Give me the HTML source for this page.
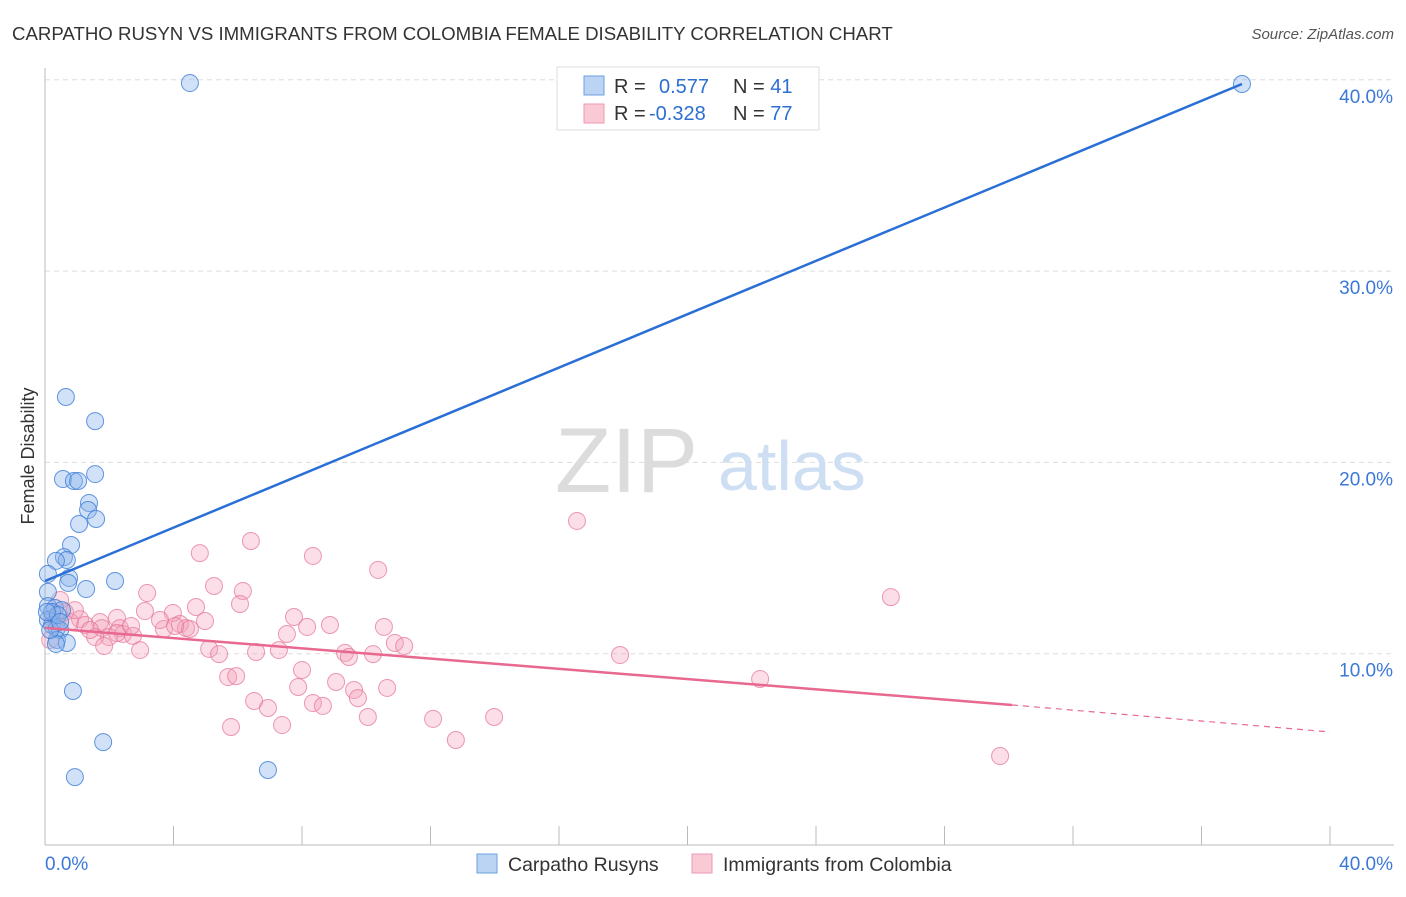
<!DOCTYPE html>
<html><head><meta charset="utf-8"><style>
body{margin:0;background:#fff;font-family:"Liberation Sans",sans-serif;}
svg text{font-family:"Liberation Sans",sans-serif;}
</style></head><body>
<svg id="chart" width="1406" height="892" viewBox="0 0 1406 892" xmlns="http://www.w3.org/2000/svg">
<text x="12" y="40" font-size="18.65" fill="#333">CARPATHO RUSYN VS IMMIGRANTS FROM COLOMBIA FEMALE DISABILITY CORRELATION CHART</text>
<text x="1394" y="39" font-size="15" fill="#555" text-anchor="end" font-style="italic">Source: ZipAtlas.com</text>
<g id="grid"></g>
<g>
<text x="555" y="492" font-size="92" fill="#dcdcdc" font-family="Liberation Serif, serif">ZIP</text>
<text x="718" y="490" font-size="70" fill="#cfdff3">atlas</text>
</g>
<g id="axes"></g>
<g id="pts"></g>
<g id="lines"></g>
<text transform="translate(34,456) rotate(-90)" font-size="18" fill="#333" text-anchor="middle">Female Disability</text>
<g>
<rect x="557" y="67" width="262" height="63" fill="#fff" stroke="#ddd"/>
<rect x="584" y="76" width="20" height="19" fill="#bcd4f3" stroke="#6d9fe0"/>
<rect x="584" y="104" width="20" height="19" fill="#f9c9d6" stroke="#eb9ab2"/>
<text x="614" y="93" font-size="20" fill="#333">R = <tspan fill="#2d6fd0" x="659">0.577</tspan><tspan x="733" fill="#333">N = </tspan><tspan fill="#2d6fd0">41</tspan></text>
<text x="614" y="120" font-size="20" fill="#333">R = <tspan fill="#2d6fd0" x="649">-0.328</tspan><tspan x="733" fill="#333">N = </tspan><tspan fill="#2d6fd0">77</tspan></text>
</g>
<g>
<rect x="477" y="854" width="20" height="19" fill="#bcd4f3" stroke="#6d9fe0"/>
<text x="508" y="871" font-size="19.5" fill="#333">Carpatho Rusyns</text>
<rect x="692" y="854" width="20" height="19" fill="#f9c9d6" stroke="#eb9ab2"/>
<text x="723" y="871" font-size="19.5" fill="#333">Immigrants from Colombia</text>
</g>
</svg>
<script>
const blueX=[4.51,37.26,0.65,1.56,0.56,0.90,1.03,1.56,1.37,1.34,1.59,1.06,0.81,0.59,0.68,0.34,0.09,0.75,0.72,1.28,2.18,0.09,0.09,0.31,0.53,0.09,0.22,0.37,0.47,0.37,0.68,0.34,0.87,1.81,0.93,6.94,0.22,0.40,0.06,0.16,0.47];
const blueY=[39.83,39.78,23.42,22.16,19.13,19.03,19.03,19.39,17.88,17.51,17.04,16.78,15.68,15.05,14.90,14.85,14.17,13.96,13.70,13.38,13.80,13.23,12.49,12.39,12.28,11.76,11.50,11.34,11.24,10.72,10.56,10.51,8.05,5.38,3.55,3.92,12.18,12.02,12.18,11.24,11.66];
const pinkX=[16.56,4.82,6.41,8.34,10.37,5.26,6.16,3.18,26.33,4.70,6.07,3.11,3.98,7.75,4.98,8.87,10.55,8.16,7.53,4.20,4.39,4.51,3.70,2.24,1.71,1.09,0.62,0.22,0.37,0.78,1.25,1.77,2.33,2.43,2.74,1.99,1.56,1.84,2.96,5.11,5.42,6.57,7.28,9.34,9.46,10.21,10.89,11.18,17.90,22.26,8.00,5.70,5.95,9.06,7.88,10.65,9.62,9.74,6.51,8.34,8.65,6.94,10.05,12.08,13.98,5.79,7.38,12.79,29.73,0.47,0.16,0.93,3.58,4.05,2.68,2.24,1.40];
const pinkY=[16.94,15.26,15.89,15.11,14.38,13.54,13.28,13.17,12.96,12.44,12.60,12.23,12.13,11.92,11.71,11.50,11.40,11.40,11.03,11.55,11.34,11.29,11.29,11.87,11.66,11.81,12.18,11.87,11.76,11.66,11.50,11.34,11.34,11.03,10.93,10.87,10.87,10.40,10.19,10.25,9.98,10.09,10.19,10.04,9.83,9.98,10.56,10.40,9.93,8.68,9.15,8.78,8.83,8.52,8.26,8.21,8.10,7.68,7.53,7.42,7.27,7.16,6.69,6.59,6.69,6.17,6.27,5.49,4.65,12.81,10.72,12.28,11.76,11.45,11.45,11.08,11.24];
const blueLine=[[0,13.80],[37.26,39.78]];
const pinkLine=[[0,11.35],[30.1,7.32]];
const pinkDash=[[30.1,7.32],[40,5.91]];
const yTicks=[10,20,30,40];
const yTickLabels=["10.0%","20.0%","30.0%","40.0%"];
const xTicks=[0,4,8,12,16,20,24,28,32,36,40];

const NS="http://www.w3.org/2000/svg";
const sx=v=>45+v*32.125;
const sy=v=>845-v*19.13;
function mk(tag,attrs,parent){const e=document.createElementNS(NS,tag);for(const k in attrs)e.setAttribute(k,attrs[k]);parent.appendChild(e);return e;}
const grid=document.getElementById('grid'),axes=document.getElementById('axes'),pts=document.getElementById('pts'),lines=document.getElementById('lines');
yTicks.forEach((t,i)=>{
  const l=mk('line',{x1:45,x2:1394,y1:sy(t),y2:sy(t),stroke:'#ddd','stroke-dasharray':'5,4'},grid);
  
  
  const tx=mk('text',{x:1393,y:sy(t)+23,'font-size':19,fill:'#3b78d8','text-anchor':'end'},axes);
  tx.textContent=yTickLabels[i];
  
  
});
mk('line',{x1:45,x2:45,y1:68,y2:845,stroke:'#bbb'},axes);
mk('line',{x1:45,x2:1394,y1:845,y2:845,stroke:'#bbb'},axes);
xTicks.forEach(t=>{
  const l=mk('line',{x1:sx(t),x2:sx(t),y1:826,y2:845,stroke:'#bbb'},axes);
  
  
});
const x0=mk('text',{x:45,y:870,'font-size':19,fill:'#3b78d8'},axes);x0.textContent="0.0%";


const x1=mk('text',{x:1393,y:870,'font-size':19,fill:'#3b78d8','text-anchor':'end'},axes);x1.textContent="40.0%";


pinkX.forEach((x,i)=>{
  const c=mk('circle',{cx:sx(x),cy:sy(pinkY[i]),r:8.5,fill:'rgba(244,160,185,0.35)',stroke:'rgba(230,120,155,0.75)','stroke-width':1},pts);
  
  
});
blueX.forEach((x,i)=>{
  const c=mk('circle',{cx:sx(x),cy:sy(blueY[i]),r:8.5,fill:'rgba(140,180,235,0.4)',stroke:'rgba(60,125,215,0.8)','stroke-width':1},pts);
  
  
});
const bl=mk('line',{x1:sx(blueLine[0][0]),y1:sy(blueLine[0][1]),x2:sx(blueLine[1][0]),y2:sy(blueLine[1][1]),stroke:'#2a6fd6','stroke-width':2.5},lines);


const pl=mk('line',{x1:sx(pinkLine[0][0]),y1:sy(pinkLine[0][1]),x2:sx(pinkLine[1][0]),y2:sy(pinkLine[1][1]),stroke:'#e8688f','stroke-width':2.5},lines);


const pd=mk('line',{x1:sx(pinkDash[0][0]),y1:sy(pinkDash[0][1]),x2:sx(pinkDash[1][0]),y2:sy(pinkDash[1][1]),stroke:'#e8688f','stroke-width':1.2,'stroke-dasharray':'6,5'},lines);


</script>
</body></html>
